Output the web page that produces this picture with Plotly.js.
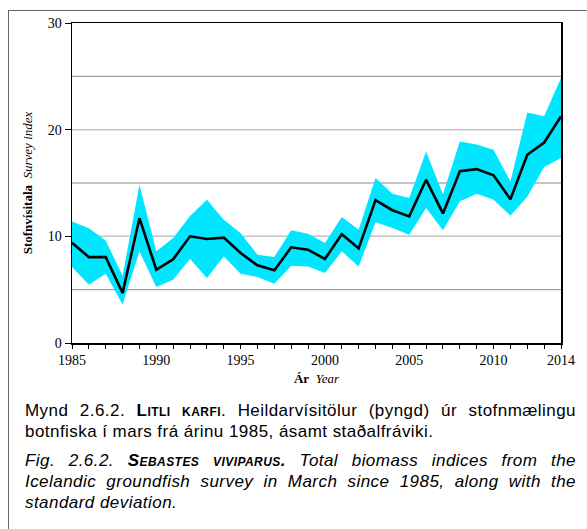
<!DOCTYPE html>
<html>
<head>
<meta charset="utf-8">
<script src="https://cdn.plot.ly/plotly-3.0.1.min.js"></script>
<style>
  html, body { margin: 0; padding: 0; background: #fff; }
  body { width: 587px; height: 529px; position: relative; overflow: hidden; }
  #chart { position: absolute; left: 0; top: 0; width: 587px; height: 529px; }
  #frame { position: absolute; left: 8px; top: 10px; width: 600px; height: 540px;
           border-left: 1.5px solid #666; border-top: 1.5px solid #666; pointer-events: none; z-index: 5; }
  #caption { position: absolute; left: 25px; top: 400px; width: 551px;
             font-family: "Liberation Sans", Arial, sans-serif; font-size: 17px; line-height: 21px;
             letter-spacing: 0.45px; color: #000; text-align: justify; z-index: 6; }
  #caption p { margin: 0; }
  #caption p.en { margin-top: 8px; font-style: italic; }
  .sc { font-variant: small-caps; font-weight: bold; }
</style>
</head>
<body>
<div id="chart"></div>
<div id="frame"></div>
<div id="caption">
  <p>Mynd 2.6.2. <span class="sc">Litli karfi</span>. Heildarvísitölur (þyngd) úr stofnmælingu botnfiska í mars frá árinu 1985, ásamt staðalfráviki.</p>
  <p class="en">Fig. 2.6.2. <span class="sc">Sebastes viviparus.</span> Total biomass indices from the Icelandic groundfish survey in March since 1985, along with the standard deviation.</p>
</div>
<script>
const years = [1985,1986,1987,1988,1989,1990,1991,1992,1993,1994,1995,1996,1997,1998,1999,
               2000,2001,2002,2003,2004,2005,2006,2007,2008,2009,2010,2011,2012,2013,2014];
const surveyIndex = [9.4,8.05,8.05,4.7,11.7,6.87,7.85,10.0,9.75,9.88,8.43,7.28,6.81,8.97,8.75,
                     7.88,10.2,8.87,13.4,12.45,11.87,15.3,12.15,16.1,16.3,15.72,13.47,17.65,18.8,21.25];
const upperSD = [11.4,10.75,9.6,6.3,14.84,8.6,9.84,11.9,13.43,11.56,10.3,8.28,8.06,10.56,10.25,
                 9.37,11.81,10.62,15.47,14.0,13.6,17.96,13.95,18.9,18.6,18.12,15.15,21.62,21.25,24.84];
const lowerSD = [7.12,5.47,6.5,3.6,8.59,5.25,5.93,7.87,6.09,8.12,6.5,6.19,5.56,7.25,7.18,
                 6.56,8.59,7.18,11.31,10.78,10.15,12.65,10.56,13.28,14.0,13.43,11.93,13.7,16.5,17.34];
const xTickLabels = ["1985","1990","1995","2000","2005","2010","2014"];
const yTickVals = [0,10,20,30];
const gridDark = [5,15,25];
const gridLight = [10,20];

const xtickText = years.map(y => xTickLabels.includes(String(y)) ? String(y) : "");

const traces = [
  { x: years, y: lowerSD, type: 'scatter', mode: 'lines', line: {width: 0, color: '#00E6FF'},
    hoverinfo: 'skip', showlegend: false },
  { x: years, y: upperSD, type: 'scatter', mode: 'lines', line: {width: 0, color: '#00E6FF'},
    fill: 'tonexty', fillcolor: '#00E6FF', hoverinfo: 'skip', showlegend: false },
  { x: years, y: surveyIndex, type: 'scatter', mode: 'lines', line: {width: 2.6, color: '#000'},
    showlegend: false }
];

const shapes = [];
gridDark.forEach(v => shapes.push({type: 'line', xref: 'paper', yref: 'y', x0: 0, x1: 1, y0: v, y1: v,
  line: {color: '#8a8a8a', width: 1}, layer: 'below'}));
gridLight.forEach(v => shapes.push({type: 'line', xref: 'paper', yref: 'y', x0: 0, x1: 1, y0: v, y1: v,
  line: {color: '#c4c4c4', width: 1.5}, layer: 'below'}));

const serif = '"Liberation Serif", "Times New Roman", serif';
const layout = {
  width: 587, height: 529,
  margin: {l: 72, r: 26, t: 23, b: 186},
  paper_bgcolor: 'rgba(0,0,0,0)', plot_bgcolor: '#fff',
  showlegend: false,
  shapes: shapes,
  xaxis: {
    range: [1985, 2014], tickmode: 'array', tickvals: years, ticktext: xtickText,
    ticks: 'outside', ticklen: 4, tickwidth: 1, tickcolor: '#000',
    showline: true, linecolor: '#000', linewidth: 1.5, mirror: true,
    showgrid: false, zeroline: false,
    tickfont: {family: serif, size: 14, color: '#000'},
    title: {text: '<b>Ár</b>  <i>Year</i>', font: {family: serif, size: 13, color: '#000'}, standoff: 6}
  },
  yaxis: {
    range: [0, 30], tickmode: 'array', tickvals: yTickVals,
    ticks: 'outside', ticklen: 6, tickwidth: 1, tickcolor: '#000',
    showline: true, linecolor: '#000', linewidth: 1.5, mirror: true,
    showgrid: false, zeroline: false,
    tickfont: {family: serif, size: 14, color: '#000'},
    title: {text: '<b>Stofnvísitala</b>  <i>Survey index</i>', font: {family: serif, size: 13, color: '#000'}, standoff: 12}
  }
};

Plotly.newPlot('chart', traces, layout, {staticPlot: true, displayModeBar: false});
</script>
</body>
</html>
